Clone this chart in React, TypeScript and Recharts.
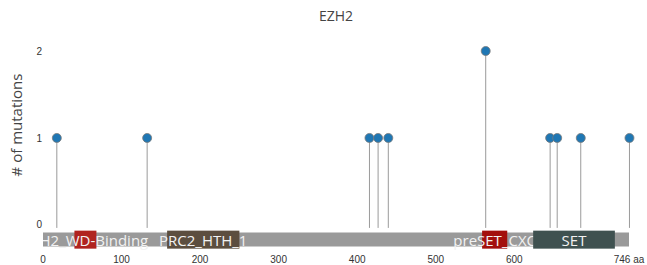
import React from 'react';
import { ComposedChart, Bar, XAxis, YAxis, ReferenceArea, Label } from 'recharts';

// mutation positions (aa) and counts
const positions = [17, 132, 415, 426, 439, 563, 645, 654, 684, 746];
const counts = [1, 1, 1, 1, 1, 2, 1, 1, 1, 1];

// protein domains
const domainNames = ['EZH2_WD-Binding', 'PRC2_HTH_1', 'preSET_CXC', 'SET'];
const domainStarts = [40, 158, 559, 624];
const domainEnds = [68, 250, 591, 728];
const domainColors = ['#b0231f', '#5c4e3f', '#a3100d', '#3f5150'];

const proteinLength = 746;
const xTicks = [0, 100, 200, 300, 400, 500, 600, 746];
const yTicks = [0, 1, 2];

const FONT = '"Open Sans", "Noto Sans", sans-serif';

const data = positions.map((p, i) => ({ pos: p, count: counts[i] }));

const Lollipop = (props: any) => {
    const { x, y, width, height } = props;
    const cx = x + width / 2;
    return (
        <g>
            <line x1={cx} x2={cx} y1={y} y2={y + height + 3} stroke="#9a9a9a" strokeWidth={1} />
            <circle cx={cx} cy={y} r={4.5} fill="#1f77b4" stroke="#7a7a7a" strokeWidth={0.8} />
        </g>
    );
};

const domainShape = (name: string, color: string) => (p: any) => (
    <g clipPath={p.clipPath}>
        <rect x={p.x} y={p.y} width={p.width} height={p.height} fill={color} />
        <text
            x={p.x + p.width / 2}
            y={p.y + p.height / 2 + 0.5}
            textAnchor="middle"
            dominantBaseline="central"
            fill="#f2f2f2"
            fontSize={15}
            fontFamily={FONT}
        >
            {name}
        </text>
    </g>
);

export default function App() {
    return (
        <div style={{ position: 'absolute', left: 0, top: 0, width: 647, height: 265, background: '#fff' }}>
            <div style={{ position: 'absolute', left: 0, top: 6, width: 647, textAlign: 'center', paddingLeft: 25, boxSizing: 'border-box', fontFamily: FONT, fontSize: 14, color: '#444' }}>
                EZH2
            </div>
            <ComposedChart
                width={647}
                height={265}
                data={data}
                margin={{ top: 33.6, right: 18, bottom: 0, left: 0 }}
            >
                <XAxis
                    dataKey="pos"
                    type="number"
                    domain={[0, proteinLength]}
                    ticks={xTicks}
                    interval={0}
                    axisLine={false}
                    tickLine={false}
                    tickSize={0}
                    tickMargin={5}
                    height={14}
                    tick={{ fontSize: 10, fill: '#333', fontFamily: 'Arial, "Liberation Sans", sans-serif' }}
                    tickFormatter={(v: number) => (v === proteinLength ? `${v} aa` : `${v}`)}
                />
                <YAxis
                    type="number"
                    domain={[-0.3, 2.2]}
                    ticks={yTicks}
                    interval={0}
                    axisLine={false}
                    tickLine={false}
                    tickSize={0}
                    tickMargin={1}
                    width={43}
                    tick={{ fontSize: 10, fill: '#333', fontFamily: 'Arial, "Liberation Sans", sans-serif' }}
                >
                    <Label
                        content={() => (
                            <text
                                x={16}
                                y={125}
                                transform="rotate(-90 16 125)"
                                textAnchor="middle"
                                dominantBaseline="central"
                                fill="#444"
                                fontSize={15}
                                fontFamily={FONT}
                            >
                                # of mutations
                            </text>
                        )}
                    />
                </YAxis>
                <ReferenceArea x1={0} x2={proteinLength} y1={-0.0885} y2={-0.2494} fill="#9a9a9a" fillOpacity={1} stroke="none" ifOverflow="hidden" />
                {domainNames.map((name, i) => (
                    <ReferenceArea
                        key={name}
                        x1={domainStarts[i]}
                        x2={domainEnds[i]}
                        y1={-0.066}
                        y2={-0.273}
                        ifOverflow="hidden"
                        shape={domainShape(name, domainColors[i])}
                    />
                ))}
                <Bar dataKey="count" barSize={2} shape={<Lollipop />} isAnimationActive={false} />
            </ComposedChart>
        </div>
    );
}
